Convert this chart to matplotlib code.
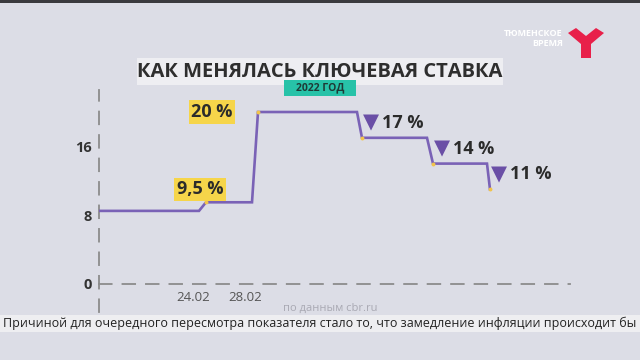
import matplotlib.pyplot as plt
from matplotlib.patches import Rectangle, Polygon

# ключевая ставка ЦБ, 2022 год (схематичная шкала времени)
levels = [8.5, 9.5, 20, 17, 14, 11]
level_start = [0, 10.7, 15.9, 26.3, 33.4, 39.1]   # где начинается уровень
level_end = [10.0, 15.3, 25.8, 32.8, 38.8]        # где начинается переход
rate_labels = ['9,5 %', '20 %', '17 %', '14 %', '11 %']
xtick_pos = [9.4, 14.6]
xtick_labels = ['24.02', '28.02']
ytick_vals = [0, 8, 16]

bg = '#dcdde6'
purple = '#7a62b6'
tri_col = '#6a4fa6'
yellow = '#f6d54a'
dark = '#2b2b2b'

W, H = 640, 360
fig = plt.figure(figsize=(6.4, 3.6), dpi=100, facecolor=bg)

def px(x, y):
    return x / W, 1 - y / H

# область графика: x 99..570 px, y 90..312 px
ax = fig.add_axes([99 / W, 1 - 312 / H, (570 - 99) / W, (312 - 90) / H])
ax.set_facecolor('none')
ax.set_xlim(0, 47.1)
ax.set_ylim(-3.26, 22.56)

for s in ['top', 'right']:
    ax.spines[s].set_visible(False)
ax.spines['bottom'].set_position(('data', 0))
ax.spines['left'].set_position(('data', 0))
for s in ['bottom', 'left']:
    ax.spines[s].set_color('#8c8c8c')
    ax.spines[s].set_linewidth(1.3)
    ax.spines[s].set_linestyle((0, (7, 6)))

ax.set_yticks(ytick_vals)
ax.set_yticklabels([str(v) for v in ytick_vals], fontsize=10.5, fontweight='bold',
                   color='#333333', family='Open Sans')
ax.set_xticks(xtick_pos)
ax.set_xticklabels(xtick_labels, fontsize=9.5, color='#555555', family='Open Sans')
ax.tick_params(length=0)
ax.tick_params(axis='y', pad=5)
ax.tick_params(axis='x', pad=5)

# ступенчатая линия
xs, ys = [level_start[0]], [levels[0]]
for i in range(1, len(levels)):
    xs += [level_end[i - 1], level_start[i]]
    ys += [levels[i - 1], levels[i]]
ax.plot(xs, ys, color=purple, lw=1.9, solid_joinstyle='miter', zorder=3)
ax.scatter(level_start[1:], levels[1:], s=8, color='#f2c44a', zorder=4, lw=0)

# подписи
box = dict(boxstyle='square,pad=0.15', fc=yellow, ec='none')
ax.annotate(rate_labels[0], (level_start[1], levels[1]), xytext=(-6, 13),
            textcoords='offset pixels', ha='center', va='center', fontsize=13,
            fontweight='bold', color=dark, family='Open Sans', bbox=box)
ax.annotate(rate_labels[1], (level_start[2], levels[2]), xytext=(-46, 0),
            textcoords='offset pixels', ha='center', va='center', fontsize=13,
            fontweight='bold', color=dark, family='Open Sans', bbox=box)
for i, lab in zip(range(3, 6), rate_labels[2:]):
    ax.annotate('▼', (level_start[i], levels[i]), xytext=(1, 15),
                textcoords='offset pixels', ha='left', va='center', fontsize=15,
                color=tri_col, family='DejaVu Sans')
    ax.annotate(lab, (level_start[i], levels[i]), xytext=(20, 15),
                textcoords='offset pixels', ha='left', va='center', fontsize=13,
                fontweight='bold', color=dark, family='Open Sans')

# заголовок
fig.patches.append(Rectangle(px(137, 85), (503 - 137) / W, 27 / H,
                             transform=fig.transFigure, fc='#eeeef2', ec='none'))
fig.text(*px(320, 72), 'КАК МЕНЯЛАСЬ КЛЮЧЕВАЯ СТАВКА', ha='center', va='center',
         fontsize=14.5, fontweight='bold', color='#2e2e2e', family='Open Sans')
fig.patches.append(Rectangle(px(284, 96), (356 - 284) / W, 16 / H,
                             transform=fig.transFigure, fc='#27c2a8', ec='none'))
fig.text(*px(320, 88), '2022 ГОД', ha='center', va='center', fontsize=7.5,
         fontweight='bold', color='#1e3a36', family='Open Sans')

fig.text(*px(330, 308), 'по данным cbr.ru', ha='center', va='center', fontsize=8,
         color='#a9a9b3', family='Open Sans')

# бегущая строка
fig.patches.append(Rectangle(px(0, 332), 1, 17 / H, transform=fig.transFigure,
                             fc='#eeeef1', ec='none'))
fig.text(*px(3, 323), 'Причиной для очередного пересмотра показателя стало то, '
         'что замедление инфляции происходит бы', ha='left', va='center',
         fontsize=9.0, fontweight='medium', color='#222222', family='Open Sans')

# верхняя тёмная полоса и логотип
fig.patches.append(Rectangle(px(0, 3), 1, 3 / H, transform=fig.transFigure,
                             fc='#3a3a3e', ec='none'))
fig.text(*px(563, 33), 'ТЮМЕНСКОЕ', ha='right', va='center', fontsize=6.5,
         fontweight='bold', color='white', family='Open Sans')
fig.text(*px(563, 43), 'ВРЕМЯ', ha='right', va='center', fontsize=6.5,
         fontweight='bold', color='white', family='Open Sans')
ypts = [(568, 33), (576, 28), (586, 36), (596, 28), (604, 33), (591, 44),
        (591, 58), (581, 58), (581, 44)]
fig.patches.append(Polygon([px(a, b) for a, b in ypts], closed=True,
                           transform=fig.transFigure, fc='#e8204a', ec='none'))

fig.savefig('out.png', dpi=100, facecolor=bg)
